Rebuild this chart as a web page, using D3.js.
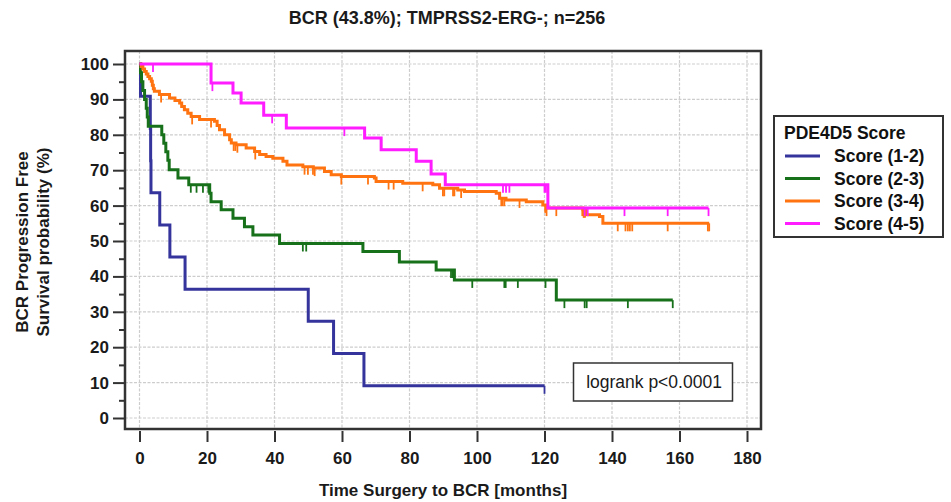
<!DOCTYPE html>
<html><head><meta charset="utf-8">
<script src="https://cdn.jsdelivr.net/npm/d3@7"></script>
<style>body{margin:0;background:#fff;}svg{display:block;font-family:"Liberation Sans",Arial,sans-serif;}</style>
</head><body><svg id="c" width="951" height="502"></svg>
<script>
const title = "BCR (43.8%); TMPRSS2-ERG-; n=256";
const xTicks = [0,20,40,60,80,100,120,140,160,180];
const yTicks = [0,10,20,30,40,50,60,70,80,90,100];
const yMinor = [5,15,25,35,45,55,65,75,85,95];
const seriesNames = ["Score (1-2)","Score (2-3)","Score (3-4)","Score (4-5)"];
const seriesColors = ["#34349c","#17701a","#ff7410","#ff1cff"];

const blueT = [0,0.3,3.2,3.3,3.4,6,9,13.5,50,57.5,66.5];
const blueS = [100,90.9,81.8,72.7,63.6,54.5,45.5,36.4,27.3,18.2,9.1];
const blueEnd = 120;
const blueCens = [120];

const greenT = [0,0.3,0.6,1.0,1.5,2.0,2.3,2.6,6.6,7.2,7.8,8.4,8.8,11.4,14.6,20.8,21.2,24.2,27.7,31.1,33.6,41.5,66.2,77,87.9,93.3,123.5];
const greenS = [100,97.5,95,92.5,90,87.5,85,82.4,80,77.6,75.2,72.8,70.1,67.8,65.9,63.5,61.1,58.8,56.4,54.0,51.7,49.3,47.0,44.1,41.8,39.0,33.3];
const greenEnd = 158;
const greenCens = [15.2,16.9,18.8,20.4,48.4,49.4,92.3,92.8,98.6,108.1,108.5,112.1,120.3,125.9,131.9,132.5,144.7,158];

const orangeT = [0,0.5,1.0,1.5,2.0,2.5,3.0,3.5,3.8,4.1,4.4,5.9,8.9,10.5,11.9,12.5,13.3,14.3,15.3,17.8,22.2,23.0,23.7,25.2,26.7,27.2,28.6,31.6,34.1,35.6,37.5,39.5,42.5,43.7,48.4,51.5,54.8,56.8,59.8,69.6,70.1,78,86.9,88.9,94.3,96.3,105.7,106.7,108.6,114.6,119.5,120.5,131.4,132.3,136.3,137.3];
const orangeS = [100,99.3,98.6,97.9,97.2,96.5,95.8,95.1,94.0,93.0,92.3,91.4,90.4,89.7,89.0,88.0,87.1,86.1,85.2,84.3,83.8,82.6,81.4,80.0,78.6,77.7,77.2,76.3,75.3,74.4,73.9,73.4,72.5,71.5,71.0,70.6,69.6,68.7,68.2,67.8,66.8,66.3,65.9,64.9,64.4,64.0,63.5,62.1,61.6,61.1,60.2,59.3,58.8,57.4,56.9,55.0];
const orangeEnd = 168.8;
const orangeCens = [6.4,15.6,21.2,27.9,28.4,29.0,34.3,48.9,49.9,51.4,51.9,59.8,67.7,73.8,75.3,83.9,89.9,90.3,92.9,93.3,95.3,107.2,107.6,108.1,112.6,120.2,120.6,123.5,131.2,131.6,132.0,141.7,144.0,144.7,145.3,146.0,156.5,168.4,168.8];

const magentaT = [0,21.2,27.7,30.1,36.8,43.5,66.7,71.6,82,86.4,90.6,121];
const magentaS = [100,94.6,91.8,89.0,85.5,81.9,79.1,75.8,72.5,68.9,65.9,59.3];
const magentaEnd = 168.6;
const magentaCens = [4,21.6,39.3,60.7,107.7,108.6,109.6,120.0,120.4,131.9,132.8,143.7,156.5,168.6];

const series = [
  {t:blueT,s:blueS,end:blueEnd,c:blueCens},
  {t:greenT,s:greenS,end:greenEnd,c:greenCens},
  {t:orangeT,s:orangeS,end:orangeEnd,c:orangeCens},
  {t:magentaT,s:magentaS,end:magentaEnd,c:magentaCens}
];

const svg = d3.select("#c");
const x = d3.scaleLinear().domain([0,180]).range([139.5,747]);
const y = d3.scaleLinear().domain([0,100]).range([418,64]);
const frame = {l:125,r:761,t:51,b:429};
const FS = 17;

// title
svg.append("text").attr("x",447).attr("y",24).attr("text-anchor","middle")
  .attr("font-size",18).attr("font-weight","bold").attr("fill","#1a1a1a").text(title);

// grid
const g = svg.append("g");
g.selectAll(".gx").data(xTicks).join("line")
  .attr("x1",d=>x(d)).attr("x2",d=>x(d)).attr("y1",frame.t).attr("y2",frame.b)
  .attr("stroke","#cdcdcd").attr("stroke-width",1.2).attr("stroke-dasharray","3,1.5");
g.selectAll(".gy").data(yTicks).join("line")
  .attr("x1",frame.l).attr("x2",frame.r).attr("y1",d=>y(d)).attr("y2",d=>y(d))
  .attr("stroke","#cdcdcd").attr("stroke-width",1.2).attr("stroke-dasharray","3,1.5");

// curves
const line = d3.line().x(d=>x(d[0])).y(d=>y(d[1])).curve(d3.curveStepAfter);
function levelAt(se, t){ let v = se.s[0]; for(let i=0;i<se.t.length;i++){ if(se.t[i]<=t) v=se.s[i]; } return v; }
series.forEach((se,i)=>{
  const pts = se.t.map((t,j)=>[t,se.s[j]]);
  pts.push([se.end, se.s[se.s.length-1]]);
  svg.append("path").attr("d",line(pts)).attr("fill","none")
    .attr("stroke",seriesColors[i]).attr("stroke-width",3).attr("stroke-linejoin","miter");
  svg.append("g").selectAll("line").data(se.c).join("line")
    .attr("x1",d=>x(d)).attr("x2",d=>x(d))
    .attr("y1",d=>y(levelAt(se,d))).attr("y2",d=>y(levelAt(se,d))+8)
    .attr("stroke",seriesColors[i]).attr("stroke-width",1.8);
});

// frame
svg.append("rect").attr("x",frame.l).attr("y",frame.t).attr("width",frame.r-frame.l).attr("height",frame.b-frame.t)
  .attr("fill","none").attr("stroke","#333").attr("stroke-width",2.5);

// y axis
const yAx = svg.append("g").attr("transform",`translate(${frame.l},0)`)
  .call(d3.axisLeft(y).tickValues(yTicks).tickSize(12).tickPadding(4).tickFormat(d3.format("d")));
yAx.select(".domain").remove();
yAx.selectAll(".tick line").attr("stroke","#333").attr("stroke-width",2);
yAx.selectAll(".tick text").attr("font-size",FS).attr("font-weight","bold").attr("fill","#1a1a1a")
  .attr("font-family","Liberation Sans, Arial, sans-serif");
const yMin = svg.append("g").attr("transform",`translate(${frame.l},0)`)
  .call(d3.axisLeft(y).tickValues(yMinor).tickSize(6).tickFormat(""));
yMin.select(".domain").remove();
yMin.selectAll(".tick line").attr("stroke","#333").attr("stroke-width",2);

// x axis
const xAx = svg.append("g").attr("transform",`translate(0,${frame.b+2})`)
  .call(d3.axisBottom(x).tickValues(xTicks).tickSize(11).tickPadding(10).tickFormat(d3.format("d")));
xAx.select(".domain").remove();
xAx.selectAll(".tick line").attr("stroke","#333").attr("stroke-width",2);
xAx.selectAll(".tick text").attr("font-size",FS).attr("font-weight","bold").attr("fill","#1a1a1a")
  .attr("font-family","Liberation Sans, Arial, sans-serif");

// axis titles
svg.append("text").attr("x",443).attr("y",496).attr("text-anchor","middle")
  .attr("font-size",FS).attr("font-weight","bold").attr("fill","#1a1a1a").text("Time Surgery to BCR [months]");
svg.append("text").attr("transform","translate(28,242) rotate(-90)").attr("text-anchor","middle")
  .attr("font-size",FS).attr("font-weight","bold").attr("fill","#1a1a1a").text("BCR Progression Free");
svg.append("text").attr("transform","translate(49,242) rotate(-90)").attr("text-anchor","middle")
  .attr("font-size",FS).attr("font-weight","bold").attr("fill","#1a1a1a").text("Survival probability (%)");

// logrank box
svg.append("rect").attr("x",573.5).attr("y",363).attr("width",159).attr("height",38)
  .attr("fill","#fff").attr("stroke","#333").attr("stroke-width",1.5);
svg.append("text").attr("x",654).attr("y",388).attr("text-anchor","middle")
  .attr("font-size",17.5).attr("fill","#1a1a1a").text("logrank p<0.0001");

// legend
const lg = svg.append("g");
lg.append("rect").attr("x",774).attr("y",116).attr("width",169).attr("height",121)
  .attr("fill","#fff").attr("stroke","#333").attr("stroke-width",2);
lg.append("text").attr("x",784).attr("y",139).attr("font-size",17.5).attr("font-weight","bold")
  .attr("fill","#111").text("PDE4D5 Score");
seriesNames.forEach((n,i)=>{
  const yy = 156 + i*22.5;
  lg.append("line").attr("x1",785).attr("x2",820).attr("y1",yy).attr("y2",yy)
    .attr("stroke",seriesColors[i]).attr("stroke-width",3);
  lg.append("text").attr("x",834).attr("y",yy+6).attr("font-size",17.5).attr("font-weight","bold")
    .attr("fill","#111").text(n);
});
</script></body></html>
